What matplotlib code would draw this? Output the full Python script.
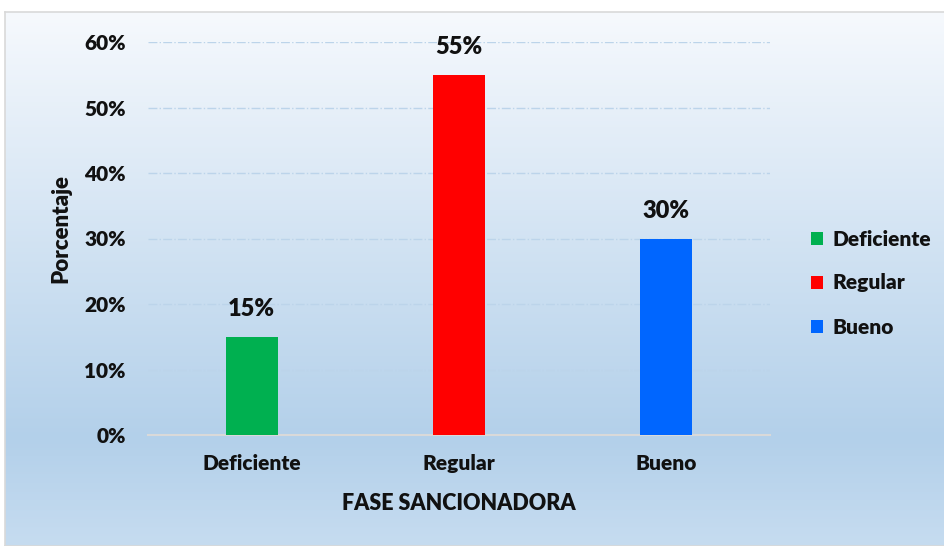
import numpy as np
import matplotlib
matplotlib.use("Agg")
from matplotlib import pyplot as plt
from matplotlib.patches import Patch
from matplotlib.colors import LinearSegmentedColormap

categorias = ["Deficiente", "Regular", "Bueno"]
valores = [15, 55, 30]
colores = ["#00b050", "#ff0000", "#0066ff"]
yticks = [0, 10, 20, 30, 40, 50, 60]

plt.rcParams['font.family'] = ['Lato', 'DejaVu Sans']
PESO = 'heavy'

fig = plt.figure(figsize=(9.45, 5.46), dpi=100)
fig.patch.set_facecolor('white')

# fondo degradado del area del grafico
bg = fig.add_axes([5 / 945, 0, 1 - 5 / 945, (546 - 12) / 546], zorder=0)
cmap = LinearSegmentedColormap.from_list(
    'fondo', [(0.0, '#c6dcf0'), (0.2, '#b3d0ea'), (1.0, '#f6f9fd')])
grad = np.linspace(0, 1, 256).reshape(-1, 1)
bg.imshow(grad, aspect='auto', cmap=cmap, origin='lower', extent=[0, 1, 0, 1])
bg.set_xlim(0, 1)
bg.set_ylim(0, 1)
bg.set_xticks([])
bg.set_yticks([])
for s in bg.spines.values():
    s.set_edgecolor('#d9d9d9')
    s.set_linewidth(1.2)

ax = fig.add_axes([148 / 945, (546 - 435) / 546, (770 - 148) / 945, (435 - 42) / 546], zorder=1)
ax.patch.set_alpha(0)

x = np.arange(len(categorias))
ax.bar(x, valores, width=0.25, color=colores, zorder=3)

for xi, v in zip(x, valores):
    ax.annotate(f"{v}%", (xi, v), xytext=(0, 20), textcoords='offset points',
                ha='center', va='center', fontsize=17, fontweight=PESO, color='#111111')

ax.set_xlim(-0.5, 2.5)
ax.set_ylim(0, 60)
ax.set_yticks(yticks)
ax.set_yticklabels([f"{t}%" for t in yticks], fontsize=15, fontweight=PESO)
ax.set_xticks(x)
ax.set_xticklabels(categorias, fontsize=15, fontweight=PESO)
ax.tick_params(axis='both', length=0, colors='#111111')
ax.tick_params(axis='y', pad=16)
ax.tick_params(axis='x', pad=14)

ax.grid(axis='y', color='#bcd4ea', linestyle='-.', linewidth=1.0, zorder=1)
for s in ['top', 'right', 'left']:
    ax.spines[s].set_visible(False)
ax.spines['bottom'].set_color('#d9d9d9')
ax.spines['bottom'].set_linewidth(1.5)
ax.spines['bottom'].set_zorder(2)

ax.set_xlabel("FASE SANCIONADORA", fontsize=15.5, fontweight=PESO, labelpad=14, color='#111111')
ax.set_ylabel("Porcentaje", fontsize=16, fontweight=PESO, color='#111111')
ax.yaxis.set_label_coords(-0.123, 0.525)

handles = [Patch(facecolor=c, label=l) for c, l in zip(colores, categorias)]
leg = fig.legend(handles=handles, loc='center left', bbox_to_anchor=(792 / 945, (546 - 283) / 546),
                 frameon=False, fontsize=15, handlelength=0.6, handleheight=0.6,
                 handletextpad=0.45, labelspacing=1.2)
for t in leg.get_texts():
    t.set_fontweight(PESO)
    t.set_color('#111111')

fig.savefig("out.png", dpi=100)
